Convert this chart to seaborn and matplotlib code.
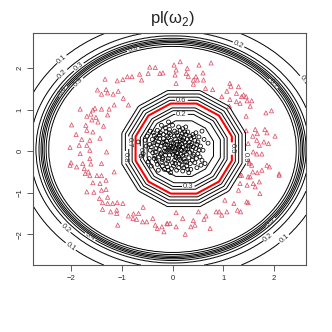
import numpy as np
import matplotlib
matplotlib.use("Agg")
import matplotlib.pyplot as plt
import seaborn as sns

# contour levels of pl(w2)
levels = [0.1, 0.2, 0.3, 0.4, 0.5, 0.6, 0.7, 0.8, 0.9]

# plausibility profile around the inner class (polygon radius -> pl)
inner_rho = [0.0, 0.35, 0.62, 0.76, 0.84, 0.90, 1.00, 1.07, 1.14, 1.21, 1.28, 1.45, 9.0]
inner_pl = [0.0, 0.02, 0.10, 0.20, 0.30, 0.40, 0.50, 0.60, 0.70, 0.80, 0.90, 0.97, 0.97]
inner_center = (0.22, 0.06)
inner_half = (0.95, 1.085)

# plausibility profile far from the data (radius -> pl)
outer_r = [0.0, 2.40, 2.48, 2.53, 2.57, 2.60, 2.63, 2.67, 2.73, 2.85, 3.10, 3.60, 9.0]
outer_pl = [0.97, 0.97, 0.90, 0.80, 0.70, 0.60, 0.50, 0.40, 0.30, 0.20, 0.10, 0.0, 0.0]
outer_center = (0.0, 0.04)

# class 1 (circles)
circles = [
    (-0.05, 0.02), (0.08, -0.04), (0.12, 0.10), (-0.15, 0.08), (0.02, 0.18), (0.20, -0.12), (-0.22, -0.05), (0.30, 0.05), (-0.08, -0.18), (0.15, 0.25),
    (-0.30, 0.15), (0.25, -0.25), (0.05, -0.30), (-0.18, 0.30), (0.38, 0.18), (-0.35, -0.12), (0.10, 0.38), (0.42, -0.08), (-0.02, -0.42), (-0.40, 0.28),
    (0.00, 0.08), (0.18, 0.02), (-0.10, 0.14), (0.06, -0.12), (0.26, 0.14), (-0.26, 0.04), (0.14, -0.20), (-0.14, -0.10), (0.32, -0.16), (-0.04, 0.26),
    (0.22, 0.32), (-0.20, 0.20), (0.36, 0.30), (-0.32, -0.24), (0.08, 0.44), (0.46, 0.06), (-0.12, -0.30), (0.28, -0.36), (-0.44, 0.02), (0.04, -0.22),
    (0.11, 0.05), (-0.07, 0.07), (0.16, -0.08), (-0.19, -0.16), (0.24, 0.21), (-0.28, 0.22), (0.34, -0.03), (0.01, -0.08), (-0.11, 0.36), (0.19, 0.42),
    (0.50, 0.22), (-0.46, -0.18), (0.44, -0.28), (-0.24, 0.44), (0.12, -0.40), (-0.36, 0.38), (0.54, -0.14), (-0.52, 0.12), (0.30, 0.46), (-0.06, 0.52),
    (0.60, 0.02), (-0.58, -0.06), (0.20, -0.48), (-0.16, -0.44), (0.40, 0.40), (-0.30, 0.50), (0.52, 0.34), (-0.50, 0.36), (0.00, 0.62), (0.36, -0.44),
    (-0.68, 0.22), (-0.08, 0.70), (0.70, 0.19), (0.58, 0.48), (-0.42, -0.36), (0.26, 0.58), (0.48, -0.40), (-0.04, -0.52), (0.64, -0.30), (-0.22, 0.62),
    (0.09, 0.16), (-0.01, -0.02), (0.21, 0.09), (-0.13, -0.02), (0.05, 0.29), (0.27, -0.07), (-0.23, 0.12), (0.13, -0.30), (-0.09, -0.24), (0.33, 0.22),
    (-0.33, 0.06), (0.17, 0.35), (0.39, -0.22), (-0.27, -0.14), (0.07, -0.16), (-0.17, 0.22), (0.29, 0.28), (-0.37, 0.20), (0.23, -0.18), (-0.03, 0.40),
    (0.14, 0.14), (-0.06, -0.10), (0.31, 0.12), (-0.21, -0.26), (0.03, 0.36), (0.41, 0.10), (-0.39, -0.04), (0.19, -0.34), (-0.13, 0.46), (0.47, -0.18),
    (0.10, -0.06), (-0.16, 0.00), (0.24, -0.02), (0.02, 0.12), (-0.25, 0.30), (0.35, -0.30), (-0.45, 0.16), (0.15, 0.50), (-0.10, -0.38), (0.55, 0.12),
    (0.06, 0.06), (-0.02, 0.20), (0.18, 0.18), (-0.12, 0.24), (0.28, -0.26), (-0.30, -0.32), (0.44, 0.26), (-0.48, -0.26), (0.08, -0.46), (0.34, 0.36),
    (-0.20, -0.36), (0.26, 0.40), (-0.38, 0.44), (0.50, -0.06), (-0.54, 0.26), (0.16, 0.04), (-0.08, 0.32), (0.22, -0.40), (-0.32, 0.32), (0.40, -0.12),
    (0.62, 0.28), (-0.62, -0.12), (0.12, 0.58), (-0.14, 0.56), (0.58, -0.22), (-0.28, -0.46), (0.32, -0.52), (0.04, 0.48), (-0.44, 0.48), (0.46, 0.44),
    (0.00, -0.28), (0.14, 0.30), (-0.24, -0.08), (0.38, 0.02), (-0.06, 0.44), (0.20, 0.54), (-0.36, -0.18), (0.30, -0.44), (0.52, 0.02), (-0.18, 0.40),
    (0.04, 0.00), (0.12, -0.14), (-0.04, 0.12), (0.20, 0.26), (-0.10, 0.02), (0.26, 0.04), (-0.20, -0.20), (0.36, 0.14), (0.08, 0.22), (-0.14, 0.16),
    (0.42, 0.34), (-0.26, 0.38), (0.16, -0.24), (-0.34, -0.02), (0.48, 0.16), (0.02, -0.36), (-0.42, 0.10), (0.24, 0.46), (-0.08, -0.46), (0.56, -0.34),
]

# class 2 (triangles)
triangles = [
    (-1.33, 1.73), (-1.09, 1.69), (-0.98, 1.72), (-0.89, 1.79), (-0.80, 1.79), (-0.65, 1.85), (-0.61, 1.71), (-0.48, 1.87), (-0.34, 2.01), (-0.19, 1.88),
    (-1.48, 1.47), (-1.31, 1.48), (-1.28, 1.40), (-1.40, 1.37), (-1.07, 1.44), (-1.17, 1.37), (-0.97, 1.27), (-0.87, 1.11), (-1.82, 1.01), (-1.57, 0.99),
    (-1.53, 1.03), (-1.40, 1.01), (-1.25, 1.01), (-1.15, 1.11), (-1.69, 0.84), (-1.61, 0.89), (-1.51, 0.81), (-1.28, 0.87), (-1.59, 0.75), (-1.47, 0.70),
    (-1.99, 0.63), (-1.69, 0.50), (-1.57, 0.46), (-1.79, 0.28), (-1.43, 0.31), (-1.63, 0.26), (-2.02, 0.09), (-1.84, 0.14), (-1.69, 0.14), (-1.63, 0.02),
    (-1.82, -0.06), (-2.02, -0.34), (-1.89, -0.38), (-1.77, -0.30), (-1.63, -0.18), (-1.40, -0.30), (-1.72, -0.54), (-1.63, -0.59), (-1.49, -0.59), (-1.40, -0.59),
    (-2.00, -0.28), (-1.61, -0.31), (-1.74, -0.42), (-1.66, -0.50), (-1.15, -0.50), (-1.57, -0.76), (-1.43, -0.78), (-1.31, -0.70), (-1.69, -0.98), (-1.55, -0.99),
    (-1.40, -0.94), (-1.31, -0.92), (-1.44, -1.14), (-1.28, -1.11), (-1.38, -1.24), (-1.28, -1.26), (-1.18, -1.26), (-1.09, -1.24), (-0.98, -1.26), (-1.38, -1.40),
    (-1.22, -1.46), (-1.10, -1.42), (-1.10, -1.50), (-0.87, -1.56), (-0.77, -1.51), (-0.67, -1.50), (-0.78, -1.62), (-0.71, -1.64), (-0.58, -1.35), (-0.59, -1.70),
    (-0.51, -1.70), (-0.39, -1.62), (-0.34, -1.78), (-0.30, -1.86), (-0.21, -1.82), (-0.17, -1.94), (-0.10, -1.75), (-1.08, -1.78), (0.07, -1.48), (-0.05, -1.74),
    (0.07, -1.82), (0.25, -2.00), (-0.11, -1.74), (0.41, -1.67), (0.44, -1.78), (0.36, -1.82), (0.51, -1.46), (0.66, -1.56), (0.62, -1.64), (0.74, -1.86),
    (0.86, -1.46), (0.92, -1.46), (0.97, -1.54), (1.07, -1.46), (1.03, -1.18), (1.21, -1.26), (1.28, -1.42), (1.34, -1.46), (1.46, -1.22), (1.49, -1.24),
    (1.30, -0.94), (1.33, -0.78), (1.47, -0.82), (1.59, -0.78), (1.63, -0.86), (1.71, -0.74), (1.53, -0.62), (1.36, -0.58), (1.51, -0.30), (1.58, -0.50),
    (1.67, -0.52), (1.76, -0.46), (1.86, -0.34), (1.91, -0.38), (2.10, -0.58), (0.03, 2.07), (0.15, 2.15), (0.29, 1.99), (0.52, 2.07), (0.76, 2.12),
    (0.07, 1.95), (0.05, 1.83), (0.27, 1.87), (0.31, 1.80), (0.41, 1.71), (0.49, 1.71), (0.60, 1.88), (0.61, 1.71), (0.46, 1.79), (0.07, 1.63),
    (0.41, 1.61), (0.65, 1.51), (0.79, 1.48), (1.13, 1.63), (1.15, 1.56), (1.07, 1.44), (0.97, 1.31), (1.13, 1.24), (1.26, 1.39), (1.26, 1.19),
    (1.36, 1.31), (1.40, 1.35), (1.45, 1.31), (1.47, 1.21), (1.56, 1.21), (1.53, 1.08), (1.45, 0.84), (1.33, 1.15), (1.12, 1.08), (1.84, 0.92),
    (1.95, 0.97), (1.45, 0.49), (1.63, 0.52), (1.58, 0.36), (1.67, 0.42), (1.82, 0.52), (1.86, 0.44), (2.02, 0.36), (1.49, 0.18), (1.66, 0.26),
    (1.71, 0.14), (1.80, 0.22), (1.89, 0.18), (1.59, -0.02), (1.66, -0.07), (1.76, -0.07), (1.51, -0.26), (1.56, -0.34), (1.33, -0.58), (1.49, -0.62),
    (2.10, -0.55), (-0.25, 1.87), (-1.71, 0.62), (-1.90, 0.40), (-1.36, 0.60), (1.72, -1.02), (0.20, -1.62), (-0.45, 2.02), (1.30, 1.55), (-1.30, -0.02),
]

x_ticks = [-2, -1, 0, 1, 2]
y_ticks = [-2, -1, 0, 1, 2]

sns.set_style("ticks")
plt.rcParams['font.family'] = ['Liberation Sans', 'DejaVu Sans']
plt.rcParams['mathtext.fontset'] = 'custom'
plt.rcParams['mathtext.rm'] = 'Liberation Sans'

fig = plt.figure(figsize=(3.32, 3.32), dpi=100)
ax = fig.add_axes([0.0994, 0.2018, 0.8223, 0.6988])

# plausibility surface on a grid
gx = np.linspace(-2.75, 2.63, 240)
gy = np.linspace(-2.74, 2.84, 240)
X, Y = np.meshgrid(gx, gy)
dx = (X - inner_center[0]) / inner_half[0]
dy = (Y - inner_center[1]) / inner_half[1]
ang = np.arange(12) * np.pi / 6
rho = np.max(dx[..., None] * np.cos(ang) + dy[..., None] * np.sin(ang), axis=-1)
pl_in = np.interp(rho, inner_rho, inner_pl)
r = np.hypot((X - outer_center[0]) / 0.985, Y - outer_center[1])
pl_out = np.interp(r, outer_r, outer_pl)

cx = [p[0] for p in circles]
cy = [p[1] for p in circles]
tx = [p[0] for p in triangles]
ty = [p[1] for p in triangles]

sns.scatterplot(x=cx, y=cy, marker='o', s=8, facecolor='none', edgecolor='black', linewidth=0.55, ax=ax)
sns.scatterplot(x=tx, y=ty, marker='^', s=9, facecolor='none', edgecolor='#DF536B', linewidth=0.55, ax=ax)

# inner group: 0.5 level in red
cols = ['red' if l == 0.5 else 'black' for l in levels]
lws = [1.5 if l == 0.5 else 0.7 for l in levels]
cs_in = ax.contour(X, Y, pl_in, levels=levels, colors=cols, linewidths=lws)
ax.clabel(cs_in, fontsize=5.5, fmt='%.1f', inline=True, inline_spacing=1, colors='#333333')

# outer group: all black
cs_out = ax.contour(X, Y, pl_out, levels=levels, colors='black', linewidths=0.7)
ax.clabel(cs_out, fontsize=5.5, fmt='%.1f', inline=True, inline_spacing=1, colors='#333333')

ax.set_xlim(-2.75, 2.63)
ax.set_ylim(-2.74, 2.84)
ax.set_xticks(x_ticks)
ax.set_yticks(y_ticks)
ax.tick_params(labelsize=5.5, length=4, width=0.6, color='#444444', pad=3)
for lab in ax.get_yticklabels():
    lab.set_rotation(90)
    lab.set_va('center')
for s in ax.spines.values():
    s.set_color('#555555')
    s.set_linewidth(0.8)

fig.text(0.521, 0.945, r'pl(ω$_2$)', ha='center', va='center', fontsize=12)

fig.savefig('out.png', dpi=100)
